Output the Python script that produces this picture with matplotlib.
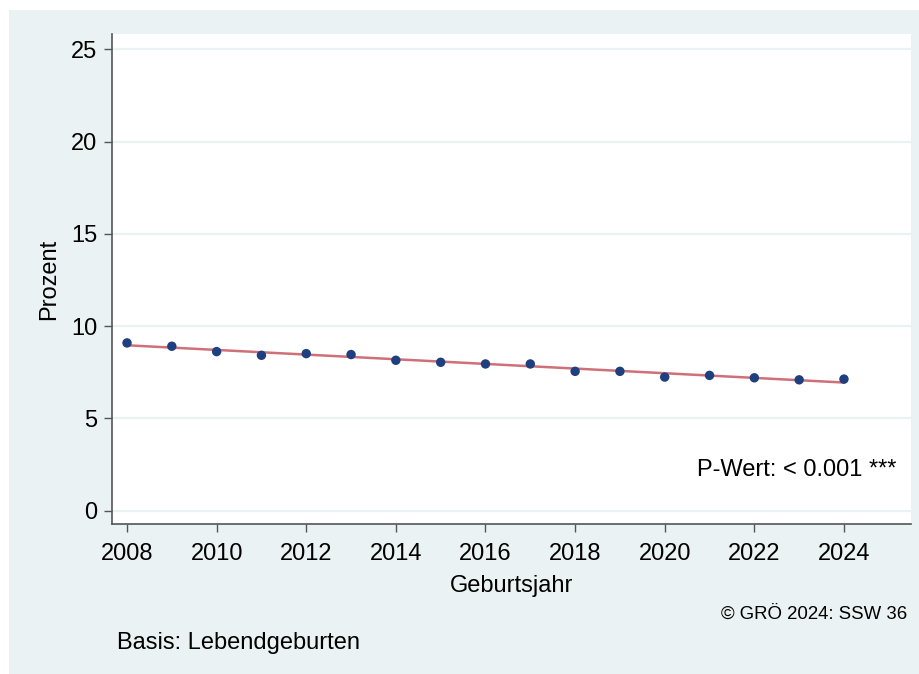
import matplotlib
matplotlib.use("Agg")
import matplotlib.pyplot as plt
import numpy as np
from matplotlib.patches import Rectangle

years = [2008, 2009, 2010, 2011, 2012, 2013, 2014, 2015, 2016,
         2017, 2018, 2019, 2020, 2021, 2022, 2023, 2024]
values = [9.09, 8.91, 8.62, 8.42, 8.51, 8.46, 8.15, 8.04, 7.95,
          7.95, 7.55, 7.55, 7.24, 7.33, 7.20, 7.09, 7.13]
xticks = [2008, 2010, 2012, 2014, 2016, 2018, 2020, 2022, 2024]
yticks = [0, 5, 10, 15, 20, 25]

plt.rcParams['font.family'] = ['Liberation Sans', 'DejaVu Sans']

bg = '#eaf2f3'
fig = plt.figure(figsize=(9.2, 6.74), dpi=100, facecolor='white')
fig.patches.append(Rectangle((9/920, 0), 1 - 9/920, (674-10)/674,
                             transform=fig.transFigure, facecolor=bg,
                             edgecolor='none', zorder=-10))

ax = fig.add_axes([112/920, 1 - 524.3/674, (911-112)/920, (524.3-34.3)/674])
ax.set_zorder(5)
ax.set_facecolor('white')

x = np.array(years, dtype=float)
y = np.array(values)
b, a = np.polyfit(x, y, 1)
ax.plot(x, a + b * x, color='#cf7079', lw=1.8, zorder=3)
ax.scatter(x, y, s=46, color='#1e3f80', zorder=4, edgecolors='none')

ax.set_xlim(2007.665, 2025.496)
ax.set_ylim(-0.737, 25.81)
ax.set_xticks(xticks)
ax.set_yticks(yticks)
ax.grid(axis='y', color=bg, lw=1.6, zorder=1)
ax.set_axisbelow(True)

for s in ['top', 'right']:
    ax.spines[s].set_visible(False)
for s in ['left', 'bottom']:
    ax.spines[s].set_color('#555555')
    ax.spines[s].set_linewidth(1.2)
ax.tick_params(axis='both', direction='out', length=6, width=1.0,
               color='#555555', labelsize=17, labelcolor='black')
ax.tick_params(axis='x', pad=7.5)
ax.tick_params(axis='y', pad=4.5)

ax.set_xlabel('Geburtsjahr', fontsize=17, labelpad=7)
ax.set_ylabel('Prozent', fontsize=17, labelpad=8)

ax.text(0.982, 0.11, 'P-Wert: < 0.001 ***', transform=ax.transAxes,
        ha='right', va='center', fontsize=17)

fig.text(907/920, 1 - 614/674, '© GRÖ 2024: SSW 36', ha='right', va='center',
         fontsize=13.4)
fig.text(117/920, 1 - 643/674, 'Basis: Lebendgeburten', ha='left', va='center',
         fontsize=17)

fig.savefig('out.png', dpi=100, facecolor='white')
